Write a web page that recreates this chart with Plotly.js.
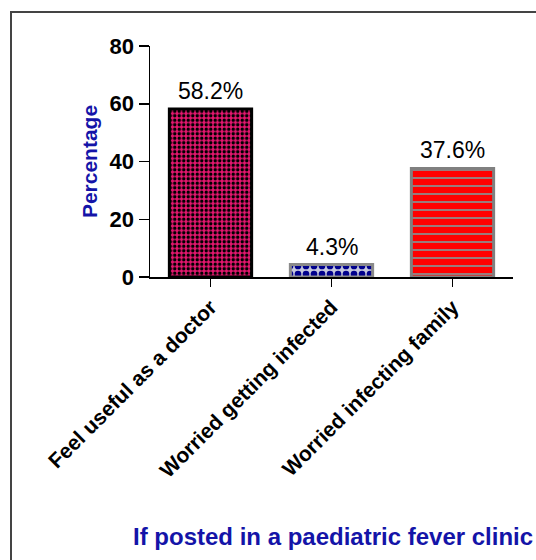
<!DOCTYPE html>
<html>
<head>
<meta charset="utf-8">
<script src="https://cdn.plot.ly/plotly-3.0.1.min.js"></script>
<style>html,body{margin:0;padding:0;background:#fff;}#chart{width:536px;height:560px;}</style>
</head>
<body>
<div id="chart"></div>
<script>
const categories = ["Feel useful as a doctor", "Worried getting infected", "Worried infecting family"];
const values = [58.2, 4.3, 37.6];
const valueLabels = ["58.2%", "4.3%", "37.6%"];
const yTicks = [0, 20, 40, 60, 80];
const xTitle = "If posted in a paediatric fever clinic";
const yTitle = "Percentage";

const FONT = "Arial, Liberation Sans, sans-serif";

const mk = (i) => ({
  type: "bar",
  x: [categories[i]],
  y: [values[i]],
  width: 0.68,
  showlegend: false,
  hoverinfo: "skip"
});

const t1 = mk(0);
t1.marker = {color: "#e6176f", line: {color: "#000", width: 3},
  pattern: {shape: ".", bgcolor: "#e6176f", fgcolor: "#000", size: 4.5, solidity: 0.45, fillmode: "replace"}};
const t2 = mk(1);
t2.marker = {color: "#c4c6dc", line: {color: "#8a8a8a", width: 3},
  pattern: {shape: ".", bgcolor: "#c4c6dc", fgcolor: "#00008c", size: 8, solidity: 0.55, fillmode: "replace"}};
const t3 = mk(2);
t3.marker = {color: "#ff0000", line: {color: "#808080", width: 3},
  pattern: {shape: "-", bgcolor: "#ff0000", fgcolor: "#8c8c8c", size: 8, solidity: 0.22, fillmode: "replace"}};

const valueAnnotations = categories.map((c, i) => ({
  xref: "x", yref: "y", x: c, y: values[i],
  text: valueLabels[i], showarrow: false, xanchor: "center", yanchor: "bottom",
  yshift: 3,
  font: {family: FONT, size: 23, color: "#000"}
}));

const layout = {
  width: 536, height: 560,
  margin: {l: 150, r: 23, t: 46, b: 283},
  paper_bgcolor: "#fff", plot_bgcolor: "#fff",
  xaxis: {
    type: "category", categoryarray: categories, range: [-0.5, 2.5],
    showline: true, linecolor: "#000", linewidth: 1.5,
    ticks: "outside", ticklen: 8, tickcolor: "#000", tickwidth: 1.5,
    tickangle: -45,
    tickfont: {family: FONT, size: 21, color: "#000", weight: "bold"},
    showgrid: false, zeroline: false
  },
  yaxis: {
    range: [0, 80], tickvals: yTicks,
    showline: true, linecolor: "#000", linewidth: 1.5,
    ticks: "outside", ticklen: 10, tickcolor: "#000", tickwidth: 1.5,
    tickfont: {family: FONT, size: 22, color: "#000", weight: "bold"},
    showgrid: false, zeroline: false,
    title: {text: yTitle, font: {family: FONT, size: 21, color: "#1414a8", weight: "bold"}, standoff: 6}
  },
  annotations: valueAnnotations.concat([{
    xref: "paper", yref: "paper", x: (333 - 150) / 363, y: (277 - 536) / 231,
    text: xTitle, showarrow: false, xanchor: "center", yanchor: "middle",
    font: {family: FONT, size: 24, color: "#1414a8", weight: "bold"}
  }]),
  shapes: [{
    type: "rect", xref: "paper", yref: "paper",
    x0: (11 - 150) / 363, x1: 1.3, y0: -1.4, y1: (277 - 12) / 231,
    line: {color: "#444", width: 2}, fillcolor: "rgba(0,0,0,0)", layer: "below"
  }],
  bargap: 0.32
};

Plotly.newPlot("chart", [t1, t2, t3], layout, {staticPlot: true, displayModeBar: false});
</script>
</body>
</html>
